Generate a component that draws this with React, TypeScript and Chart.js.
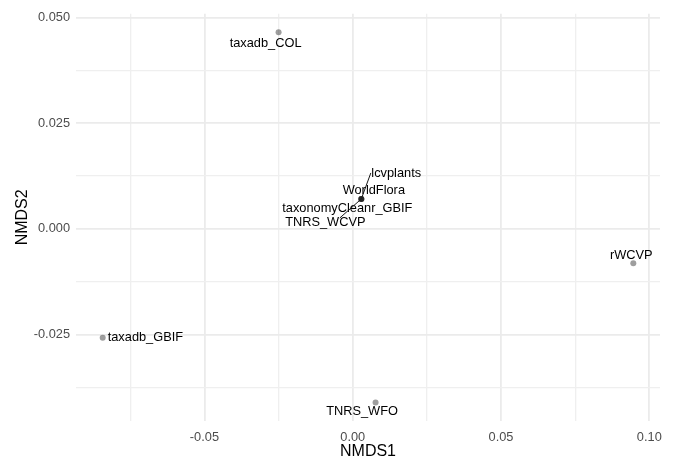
import React, { useEffect, useRef } from "react";
import { Chart, registerables } from "chart.js";

Chart.register(...registerables);

// ---- data ----
const siteNames = [
  "taxadb_COL",
  "lcvplants",
  "WorldFlora",
  "taxonomyCleanr_GBIF",
  "TNRS_WCVP",
  "rWCVP",
  "taxadb_GBIF",
  "TNRS_WFO",
];
const nmds1 = [-0.025, 0.0029, 0.0029, 0.0029, 0.0029, 0.0946, -0.0843, 0.0077];
const nmds2 = [0.0465, 0.0071, 0.0071, 0.0071, 0.0071, -0.0081, -0.0257, -0.041];

const xTickValues = [-0.075, -0.05, -0.025, 0, 0.025, 0.05, 0.075, 0.1];
const xMajorValues = [-0.05, 0, 0.05, 0.1];
const xMajorLabels = ["-0.05", "0.00", "0.05", "0.10"];
const yTickValues = [-0.0375, -0.025, -0.0125, 0, 0.0125, 0.025, 0.0375, 0.05];
const yMajorValues = [-0.025, 0, 0.025, 0.05];
const yMajorLabels = ["-0.025", "0.000", "0.025", "0.050"];

// ---- label layout (pixel offsets from the point, text alignment, leader line) ----
const labelLayout: Record<string, { dx: number; dy: number; align: CanvasTextAlign; line?: [number, number] }> = {
  taxadb_COL: { dx: -13, dy: 11, align: "center" },
  lcvplants: { dx: 10, dy: -25, align: "left", line: [9.5, -26] },
  WorldFlora: { dx: 12.5, dy: -8.5, align: "center" },
  taxonomyCleanr_GBIF: { dx: -14, dy: 10, align: "center" },
  TNRS_WCVP: { dx: -36, dy: 24, align: "center", line: [-21.5, 19] },
  rWCVP: { dx: -2, dy: -8, align: "center" },
  taxadb_GBIF: { dx: 5, dy: 0, align: "left" },
  TNRS_WFO: { dx: -13.5, dy: 9, align: "center" },
};

const FONT = "'Liberation Sans', Arial, Helvetica, sans-serif";

const near = (v: number, arr: number[]) => arr.findIndex((a) => Math.abs(a - v) < 1e-9);

const labelPlugin = {
  id: "pointLabels",
  afterDatasetsDraw(chart: any) {
    const { ctx } = chart;
    const xs = chart.scales.x;
    const ys = chart.scales.y;
    ctx.save();
    ctx.font = `12.8px ${FONT}`;
    ctx.fillStyle = "#000000";
    ctx.textBaseline = "middle";
    ctx.strokeStyle = "#1a1a1a";
    ctx.lineWidth = 1;
    siteNames.forEach((name, i) => {
      const px = xs.getPixelForValue(nmds1[i]);
      const py = ys.getPixelForValue(nmds2[i]);
      const l = labelLayout[name];
      if (l.line) {
        ctx.beginPath();
        ctx.moveTo(px, py);
        ctx.lineTo(px + l.line[0], py + l.line[1]);
        ctx.stroke();
      }
      ctx.textAlign = l.align;
      ctx.fillText(name, px + l.dx, py + l.dy);
    });
    ctx.restore();
  },
};

export default function App() {
  const ref = useRef<HTMLCanvasElement | null>(null);
  useEffect(() => {
    document.body.style.margin = "0";
    const canvas = ref.current;
    if (!canvas) return;
    const chart = new Chart(canvas, {
      type: "scatter",
      data: {
        datasets: [
          {
            data: nmds1.map((x, i) => ({ x, y: nmds2[i] })),
            backgroundColor: "rgba(0,0,0,0.38)",
            borderWidth: 0,
            pointRadius: 3,
          },
        ],
      },
      options: {
        animation: false,
        responsive: false,
        devicePixelRatio: 1,
        layout: { padding: { left: 0, top: 13, right: 13, bottom: 0 } },
        plugins: { legend: { display: false }, tooltip: { enabled: false } },
        scales: {
          x: {
            type: "linear",
            min: -0.0933,
            max: 0.1036,
            afterBuildTicks: (s: any) => {
              s.ticks = xTickValues.map((value) => ({ value }));
            },
            afterFit: (s: any) => {
              s.height = 36;
            },
            border: { display: false },
            grid: {
              drawTicks: false,
              color: (c: any) => (c.tick && near(c.tick.value, xMajorValues) >= 0 ? "#EBEBEB" : "#EFEFEF"),
              lineWidth: (c: any) => (c.tick && near(c.tick.value, xMajorValues) >= 0 ? 1.8 : 1.3),
            },
            ticks: {
              padding: 9,
              color: "#4D4D4D",
              font: { family: FONT, size: 12.8 },
              maxRotation: 0,
              autoSkip: false,
              callback: (v: any) => {
                const k = near(Number(v), xMajorValues);
                return k >= 0 ? xMajorLabels[k] : "";
              },
            },
            title: {
              display: true,
              text: "NMDS1",
              color: "#000000",
              font: { family: FONT, size: 16, lineHeight: 0.7 },
              padding: { top: 0, bottom: 0 },
            },
          },
          y: {
            type: "linear",
            min: -0.0454,
            max: 0.0509,
            afterBuildTicks: (s: any) => {
              s.ticks = yTickValues.map((value) => ({ value }));
            },
            afterFit: (s: any) => {
              s.width = 76;
            },
            border: { display: false },
            grid: {
              drawTicks: false,
              color: (c: any) => (c.tick && near(c.tick.value, yMajorValues) >= 0 ? "#EBEBEB" : "#EFEFEF"),
              lineWidth: (c: any) => (c.tick && near(c.tick.value, yMajorValues) >= 0 ? 1.8 : 1.3),
            },
            ticks: {
              padding: 6,
              color: "#4D4D4D",
              font: { family: FONT, size: 12.8 },
              autoSkip: false,
              callback: (v: any) => {
                const k = near(Number(v), yMajorValues);
                return k >= 0 ? yMajorLabels[k] : "";
              },
            },
            title: {
              display: true,
              text: "NMDS2",
              color: "#000000",
              font: { family: FONT, size: 16, lineHeight: 1.2 },
              padding: { top: 12.5, bottom: 0 },
            },
          },
        },
      },
      plugins: [labelPlugin],
    } as any);
    return () => chart.destroy();
  }, []);
  return (
    <div style={{ width: 673, height: 457, background: "#ffffff" }}>
      <canvas ref={ref} width={673} height={457} style={{ display: "block" }} />
    </div>
  );
}
